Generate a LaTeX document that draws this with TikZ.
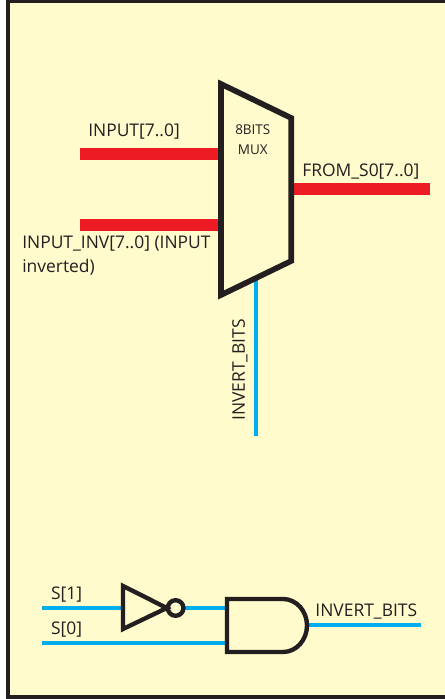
\documentclass[tikz,border=0pt]{standalone}
\usepackage{tkz-euclide}
\usepackage{fontspec}
\setmainfont{Open Sans}
\definecolor{panelyellow}{HTML}{FFFBCC}
\definecolor{wirered}{HTML}{ED1C24}
\definecolor{wireblue}{HTML}{00AEEF}
\definecolor{inkblack}{HTML}{231F20}
\tikzset{
    busred/.style={draw=wirered, line width=9.2pt, line cap=butt},
    wirecyan/.style={draw=wireblue, line width=3.4pt, line cap=butt},
    gateline/.style={draw=inkblack, line width=3.1pt, line join=miter},
    muxline/.style={draw=inkblack, line width=4pt, line join=miter},
    lab/.style={anchor=base west, inner sep=0pt, text=inkblack, font=\fontsize{12.4}{15}\selectfont}
}

\begin{document}
\begin{tikzpicture}
    \useasboundingbox (0,0) rectangle (11.125,17.475);
    \tkzDefPoints{0.2/0.06/F, 11.4/17.44/G}
    \draw[draw=inkblack, line width=2.9pt, fill=panelyellow] (F) rectangle (G);
    % mux
    \tkzDefPoints{5.525/15.375/M, 7.28/14.525/N, 7.28/10.95/O, 5.525/10.1/P}
    \tkzDefPoints{2/13.625/A, 5.5/13.625/B, 2/11.85/C, 5.5/11.85/D}
    \tkzDefPoints{7.28/12.75/E, 10.75/12.75/H, 6.4/10.5/J, 6.4/6.575/K}
    \tkzDrawSegment[busred](A,B)
    \tkzDrawSegment[busred](C,D)
    \tkzDrawSegment[busred](E,H)
    \tkzDrawSegment[wirecyan](J,K)
    \tkzDrawPolygon[muxline](M,N,O,P)
    % select logic
    \tkzDefPoints{1.05/2.275/Sa, 3.075/2.275/Sb, 4.6/2.275/Sc, 5.7/2.275/Sd}
    \tkzDefPoints{1.05/1.4/Ra, 5.7/1.4/Rb, 7.7/1.85/Qa, 10.525/1.85/Qb}
    \tkzDefPoints{3.075/2.825/Ta, 3.075/1.75/Tb, 4.17/2.275/Tc, 4.39/2.275/Cc, 4.585/2.275/Cr}
    \tkzDefPoints{5.675/2.5/Aa, 7.075/2.5/Ab, 7.075/1.175/Ac, 5.675/1.175/Ad}
    \tkzDrawSegment[wirecyan](Sa,Sb)
    \tkzDrawSegment[wirecyan](Sc,Sd)
    \tkzDrawSegment[wirecyan](Ra,Rb)
    \tkzDrawSegment[wirecyan](Qa,Qb)
    \tkzDrawPolygon[gateline](Ta,Tb,Tc)
    \tkzDrawCircle[gateline](Cc,Cr)
    \draw[gateline] (Ad) -- (Aa) -- (Ab) arc[start angle=90, end angle=-90, x radius=0.6, y radius=0.6625] -- cycle;
    % labels
    \node[lab] (inputlab) at (2.2,14.05) {INPUT[7..0]};
    \node[lab] (invlab) at (0.55,11.25) {INPUT\_INV[7..0] (INPUT};
    \node[lab] (invlabb) at (0.55,10.65) {inverted)};
    \node[lab] (fromlab) at (7.55,13.07) {FROM\_S0[7..0]};
    \node[lab, font=\fontsize{9.6}{11}\selectfont, anchor=base] (muxlab) at (6.32,14.1) {8BITS};
    \node[lab, font=\fontsize{9.6}{11}\selectfont, anchor=base] (muxlabb) at (6.32,13.62) {MUX};
    \node[lab, rotate=90] (sellab) at (6.12,6.95) {INVERT\_BITS};
    \node[lab] (s1lab) at (1.27,2.49) {S[1]};
    \node[lab] (s0lab) at (1.27,1.61) {S[0]};
    \node[lab] (outlab) at (7.88,2.06) {INVERT\_BITS};
\end{tikzpicture}
\end{document}
